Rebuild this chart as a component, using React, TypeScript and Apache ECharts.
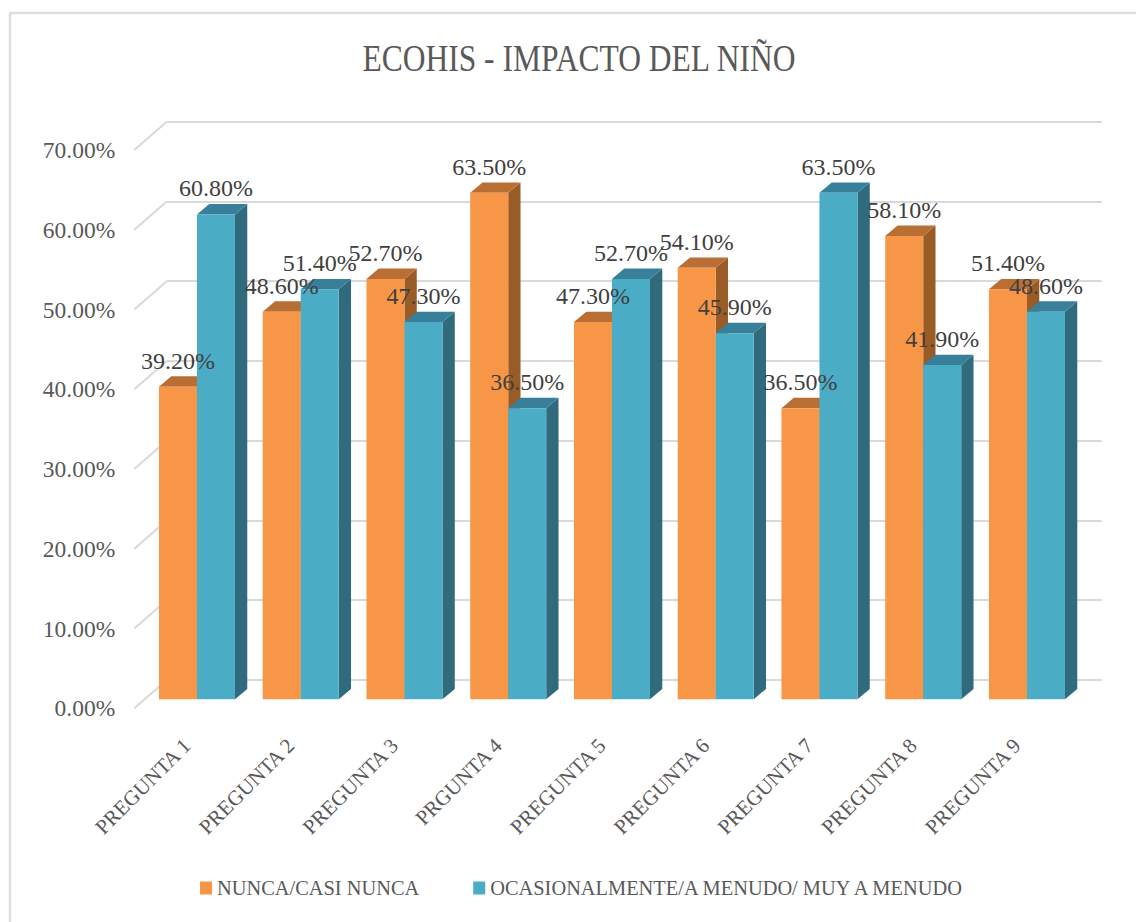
import React, { useEffect, useRef } from "react";
import * as echarts from "echarts";

const categories = ["PREGUNTA 1", "PREGUNTA 2", "PREGUNTA 3", "PRGUNTA 4", "PREGUNTA 5", "PREGUNTA 6", "PREGUNTA 7", "PREGUNTA 8", "PREGUNTA 9"];
const nunca = [39.2, 48.6, 52.7, 63.5, 47.3, 54.1, 36.5, 58.1, 51.4];
const ocasional = [60.8, 51.4, 47.3, 36.5, 52.7, 45.9, 63.5, 41.9, 48.6];
const ticks = [0, 10, 20, 30, 40, 50, 60, 70];
const SERIES_A = "NUNCA/CASI NUNCA";
const SERIES_B = "OCASIONALMENTE/A MENUDO/ MUY A MENUDO";
const TITLE = "ECOHIS - IMPACTO DEL NIÑO";

const FONT = '"Liberation Serif", serif';
const TEXT = "#595959";
const BAR_W = 38;
const DX = 12.3;
const DY = 10.4;

function barRender(offsetSign: number, front: string, top: string, side: string) {
  return (_p: any, api: any) => {
    const idx = api.value(0);
    const pTop = api.coord([idx, api.value(1)]);
    const pBase = api.coord([idx, 0]);
    const x0 = pTop[0] + (offsetSign < 0 ? -BAR_W : 0);
    const x1 = x0 + BAR_W;
    const yT = pTop[1];
    const yB = pBase[1];
    return {
      type: "group",
      children: [
        { type: "polygon", shape: { points: [[x1, yT], [x1 + DX, yT - DY], [x1 + DX, yB - DY], [x1, yB]] }, style: { fill: side } },
        { type: "polygon", shape: { points: [[x0, yT], [x1, yT], [x1 + DX, yT - DY], [x0 + DX, yT - DY]] }, style: { fill: top } },
        { type: "rect", shape: { x: x0, y: yT, width: BAR_W, height: yB - yT }, style: { fill: front } },
      ],
    };
  };
}

function labelRender(offsetSign: number) {
  return (_p: any, api: any) => {
    const idx = api.value(0);
    const v = api.value(1);
    const p = api.coord([idx, v]);
    return {
      type: "text",
      style: {
        x: p[0] + (offsetSign * BAR_W) / 2,
        y: p[1] - 26,
        text: v.toFixed(2) + "%",
        fill: "#404040",
        font: `24px ${FONT}`,
        textAlign: "center",
        textVerticalAlign: "middle",
      },
    };
  };
}

function diagRender(_p: any, api: any) {
  const p = api.coord([0, api.value(0)]);
  return {
    type: "line",
    shape: { x1: p[0], y1: p[1], x2: p[0] + 32.4, y2: p[1] - 28.3 },
    style: { stroke: "#d9d9d9", lineWidth: 2 },
  };
}

export default function App() {
  const ref = useRef<HTMLDivElement>(null);
  useEffect(() => {
    document.body.style.margin = "0";
    document.body.style.background = "#fff";
    const chart = echarts.init(ref.current!, null, { renderer: "svg" });
    chart.setOption({
      animation: false,
      backgroundColor: "#fff",
      legend: {
        left: 195,
        top: 873,
        itemWidth: 12,
        itemHeight: 13,
        itemGap: 54,
        icon: "rect",
        data: [
          { name: SERIES_A, itemStyle: { color: "#F79646" } },
          { name: SERIES_B, itemStyle: { color: "#4BACC6" } },
        ],
        textStyle: { fontFamily: FONT, fontSize: 20.4, color: TEXT },
      },
      grid: [
        { left: 166.7, right: 34.3, top: 121.7, height: 558.3 },
        { left: 134.3, width: 32.4, top: 150, height: 558.3 },
        { left: 145.1, width: 933.75, top: 141, height: 558.3 },
      ],
      xAxis: [
        { type: "value", gridIndex: 0, min: 0, max: 1, show: false },
        { type: "value", gridIndex: 1, min: 0, max: 1, show: false },
        {
          type: "category",
          gridIndex: 2,
          data: categories,
          axisLine: { show: false },
          axisTick: { show: false },
          axisLabel: { rotate: 45, interval: 0, margin: 33, padding: [0, 14, 0, 0], fontFamily: FONT, fontSize: 21, color: TEXT },
        },
      ],
      yAxis: [
        {
          type: "value",
          gridIndex: 0,
          min: 0,
          max: 70,
          interval: 10,
          axisLine: { show: false },
          axisTick: { show: false },
          axisLabel: { show: false },
          splitLine: { show: true, lineStyle: { color: "#d9d9d9", width: 2 } },
        },
        {
          type: "value",
          gridIndex: 1,
          min: 0,
          max: 70,
          interval: 10,
          axisLine: { show: false },
          axisTick: { show: false },
          splitLine: { show: false },
          axisLabel: {
            margin: 19,
            fontFamily: FONT,
            fontSize: 23.5,
            color: TEXT,
            formatter: (v: number) => v.toFixed(2) + "%",
          },
        },
        { type: "value", gridIndex: 2, min: 0, max: 70, interval: 10, show: false },
      ],
      graphic: [
        {
          type: "polyline",
          silent: true,
          z: -1,
          shape: { points: [[10, 922], [10, 13], [1136, 13]] },
          style: { fill: "none", stroke: "#dedede", lineWidth: 2.5 },
        },
        {
          type: "text",
          silent: true,
          x: 579,
          y: 58,
          scaleX: 0.83,
          style: {
            text: TITLE,
            fill: TEXT,
            font: `38px ${FONT}`,
            textAlign: "center",
            textVerticalAlign: "middle",
          },
        },
      ],
      series: [
        {
          type: "custom",
          name: "ejes",
          xAxisIndex: 1,
          yAxisIndex: 1,
          data: ticks.map((t) => [t]),
          encode: { y: 0 },
          renderItem: diagRender,
          silent: true,
          z: 1,
        },
        {
          type: "custom",
          name: SERIES_A,
          xAxisIndex: 2,
          yAxisIndex: 2,
          data: nunca.map((v, i) => [i, v]),
          encode: { x: 0, y: 1 },
          renderItem: barRender(-1, "#F79646", "#B96F33", "#995C27"),
          z: 3,
        },
        {
          type: "custom",
          name: SERIES_B,
          xAxisIndex: 2,
          yAxisIndex: 2,
          data: ocasional.map((v, i) => [i, v]),
          encode: { x: 0, y: 1 },
          renderItem: barRender(1, "#4BACC6", "#38809A", "#2F6B7C"),
          z: 4,
        },
        {
          type: "custom",
          name: "etiquetas A",
          xAxisIndex: 2,
          yAxisIndex: 2,
          data: nunca.map((v, i) => [i, v]),
          encode: { x: 0, y: 1 },
          renderItem: labelRender(-1),
          silent: true,
          z: 6,
        },
        {
          type: "custom",
          name: "etiquetas B",
          xAxisIndex: 2,
          yAxisIndex: 2,
          data: ocasional.map((v, i) => [i, v]),
          encode: { x: 0, y: 1 },
          renderItem: labelRender(1),
          silent: true,
          z: 6,
        },
      ],
    });
    return () => chart.dispose();
  }, []);
  return <div ref={ref} style={{ width: 1136, height: 922 }} />;
}
